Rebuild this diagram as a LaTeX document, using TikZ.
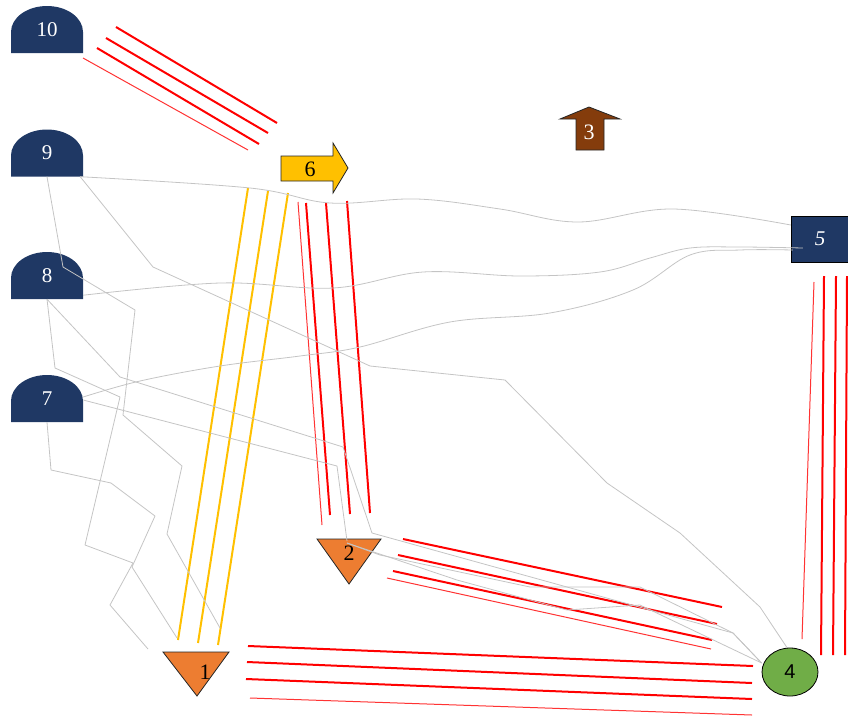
\documentclass[tikz,border=0pt]{standalone}
\usepackage{fontspec}
\newfontfamily\sansf{Liberation Sans}
\newfontfamily\serff{Liberation Serif}
\usetikzlibrary{shapes.geometric}
\definecolor{navy}{HTML}{1F3864}
\definecolor{orng}{HTML}{ED7D31}
\definecolor{grn}{HTML}{70AD47}
\definecolor{ylw}{HTML}{FFC000}
\definecolor{brn}{HTML}{843C0C}
\definecolor{gry}{HTML}{C4C4C4}
\begin{document}
\begin{tikzpicture}[x=1pt,y=-1pt,
  gl/.style={draw=gry, line width=0.8pt, line join=round},
  rl/.style={draw=red, line width=2pt},
  rlt/.style={draw=red!80, line width=1pt},
  yl/.style={draw=ylw, line width=2pt},
  domelbl/.style={minimum width=72pt, minimum height=47pt, inner sep=0pt, text=white, font=\serff\fontsize{21}{21}\selectfont},
  shapeline/.style={draw=black!85, line width=0.8pt, line join=miter},
  lbl/.style={inner sep=0pt, font=\serff\fontsize{22}{22}\selectfont}]
\useasboundingbox (0,0) rectangle (848,718);

% ---- red / yellow bundles
\draw[rlt] (83,58) -- (248,150);
\draw[rl] (97,48) -- (259,144);
\draw[rl] (106,38) -- (268,133);
\draw[rl] (116,27) -- (277,123);

\draw[rlt] (298,202) -- (322,525);
\draw[rl] (306,203) -- (330,515);
\draw[rl] (326,203) -- (350,514);
\draw[rl] (347,201) -- (370,513);

\draw[yl] (248,188) -- (178,640);
\draw[yl] (268,191) -- (198,643);
\draw[yl] (288,193) -- (218,645);

\draw[rl] (403,539) -- (722,607);
\draw[rl] (398,555) -- (717,624);
\draw[rl] (393,571) -- (712,640);
\draw[rlt] (387,578) -- (711,649);

\draw[rl] (248,646) -- (753,666);
\draw[rl] (247,662) -- (752,683);
\draw[rl] (246,679) -- (752,699);
\draw[rlt] (250,698) -- (752,715);

\draw[rlt] (814,282) -- (802,639);
\draw[rl] (824,276) -- (821,655);
\draw[rl] (836,276) -- (833,655);
\draw[rl] (847,276) -- (845,655);

% ---- shapes
\foreach \nm/\cy/\t in {n10/29.5/10, n9/153/9, n8/275.5/8, n7/398.5/7} {
  \fill[navy] (11,\cy+23.5) -- (11,\cy+2.5) arc[start angle=180,end angle=0,x radius=36pt,y radius=26pt] -- (83,\cy+23.5) -- cycle;
  \node[domelbl] (\nm) at (47,\cy) {\t};
}

\filldraw[fill=ylw, shapeline] (281,156) -- (333,156) -- (333,143) -- (348,168) -- (333,193) -- (333,181) -- (281,181) -- cycle;
\node[lbl] (n6) at (310,169) {6};

\filldraw[fill=brn, shapeline] (576,150) -- (576,119) -- (560,119) -- (589,107) -- (620,119) -- (604,119) -- (604,150) -- cycle;
\node[lbl, text=white] (n3) at (589,132) {3};

\node[draw=black, fill=navy, text=white, minimum width=58pt, minimum height=46pt, inner sep=0pt, font=\serff\fontsize{21}{21}\selectfont\itshape] (n5) at (820,239) {5};

\filldraw[fill=orng, shapeline] (317,539) -- (381,539) -- (349,584) -- cycle;
\node[inner sep=0pt, font=\serff\fontsize{22}{22}\selectfont] (n2) at (349,553) {2};

\filldraw[fill=orng, shapeline] (163,652) -- (229,652) -- (197,696) -- cycle;
\node[inner sep=0pt, font=\serff\fontsize{22}{22}\selectfont] (n1) at (205,672) {1};

\node[ellipse, draw=black, line width=0.8pt, fill=grn, minimum width=56pt, minimum height=48pt, inner sep=0pt, font=\sansf\fontsize{20}{20}\selectfont] (n4) at (790,672) {4};

% ---- grey connectors
\draw[gl] plot[smooth,tension=0.6] coordinates {([xshift=-3pt]n9.south east) (250,188) (330,203) (417,199) (500,209) (578,222) (673,209) ([yshift=14pt]n5.west)};
\draw[gl] plot[smooth,tension=0.6] coordinates {([yshift=4pt]n8.south east) (220,283) (333,288) (423,272) (520,276) (600,272) (650,258) (690,248) (740,247) ([xshift=12pt,yshift=-9pt]n5.west)};
\draw[gl] plot[smooth,tension=0.6] coordinates {([yshift=1.5pt]n7.east) (140,381) (220,366) (300,356) (360,347) (450,322) (550,313) (633,290) (690,255) (740,250) ([xshift=2pt,yshift=-11pt]n5.west)};

\draw[gl] ([xshift=-3pt]n9.south east) -- (153,267) -- (370,366) -- (505,380) -- (607,483) -- (680,533) -- (760,607) -- ([xshift=-3pt]n4.north);
\draw[gl] (n9.south) -- (63,267) -- (135,310) -- (123,415) -- (182,466) -- (167,534) -- ([shift={(15pt,44pt)}]n1.center);
\draw[gl] (n8.south) -- (55,368) -- (120,397) -- (85,545) -- (133,563) -- (110,605) -- ([shift={(-57pt,23pt)}]n1.center);
\draw[gl] (n7.south) -- (51,470) -- (111,483) -- (155,516) -- (132,567) -- ([shift={(-28pt,34pt)}]n1.center);
\draw[gl] (n8.south) -- (120,377) -- (343,447) -- (372,533) -- (733,633) -- ([yshift=9pt]n4.west);
\draw[gl] ([yshift=-1.5pt]n7.east) -- (337,466) -- ([shift={(-2pt,12pt)}]n2.center);
\draw[gl] ([shift={(-2pt,10pt)}]n2.center) -- (380,555) -- (530,587) -- (640,587) -- (733,633) -- ([yshift=9pt]n4.west);
\draw[gl] ([shift={(-2pt,10pt)}]n2.center) -- (457,580) -- (567,610) -- (640,605) -- ([yshift=9pt]n4.west);
\end{tikzpicture}
\end{document}
